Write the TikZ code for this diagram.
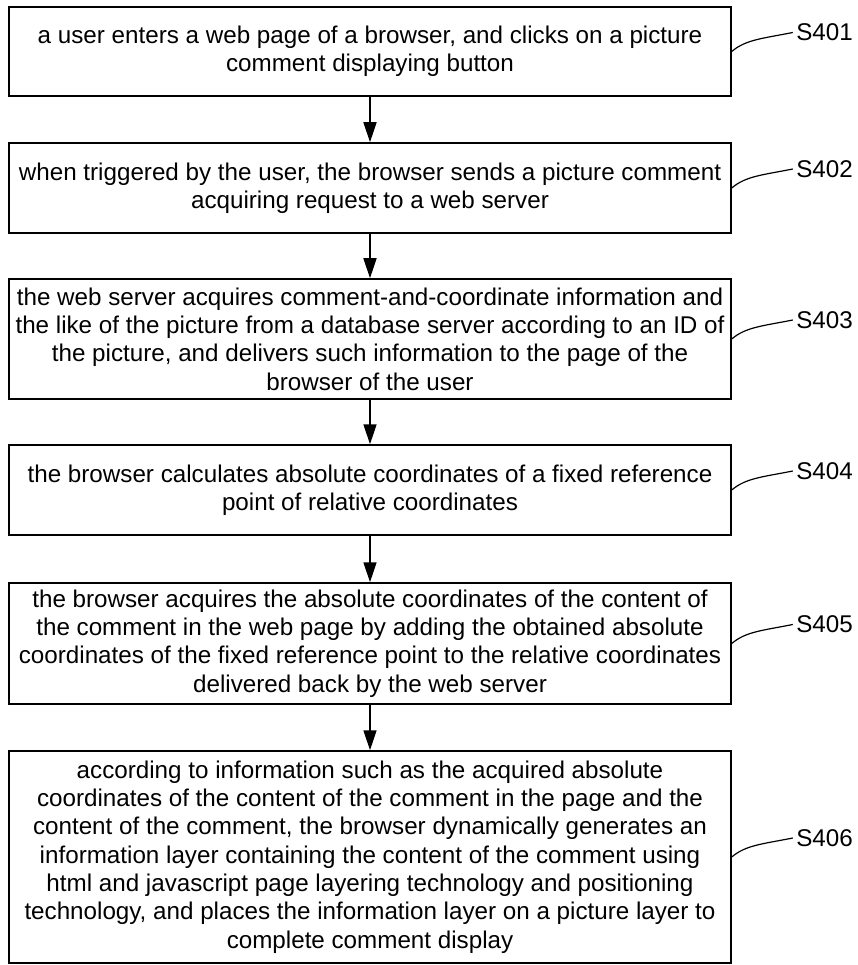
\documentclass[tikz,border=0pt]{standalone}
\usepackage{fontspec}
\setmainfont{Liberation Sans}
\usepackage{tikz}
\usetikzlibrary{arrows.meta}
\tikzset{every node/.style={font=\fontsize{24.2}{28.3}\selectfont}}
\colorlet{boxcol}{black}
\colorlet{leadcol}{black}
\tikzset{
  stepbox/.style={draw=boxcol, line width=1.5pt, align=center,
    minimum width=722pt, inner sep=0pt},
  steplabel/.style={anchor=west, text=boxcol},
}

\begin{document}
\begin{tikzpicture}[x=1pt, y=-1pt, >={Triangle[length=20pt, width=13pt]}]

  \useasboundingbox (0,0) rectangle (858,965);

  % Process boxes.
  \node[stepbox, minimum height=89pt] (s401) at (370,51.5)
    {a user enters a web page of a browser, and clicks on a picture\\
     comment displaying button};
  \node[stepbox, minimum height=90pt] (s402) at (370,188)
    {when triggered by the user, the browser sends a picture comment\\
     acquiring request to a web server};
  \node[stepbox, minimum height=120pt] (s403) at (370,339)
    {the web server acquires comment-and-coordinate information and\\
     the like of the picture from a database server according to an ID of\\
     the picture, and delivers such information to the page of the\\
     browser of the user};
  \node[stepbox, minimum height=90pt] (s404) at (370,490)
    {the browser calculates absolute coordinates of a fixed reference\\
     point of relative coordinates};
  \node[stepbox, minimum height=121pt] (s405) at (370,643.5)
    {the browser acquires the absolute coordinates of the content of\\
     the comment in the web page by adding the obtained absolute\\
     coordinates of the fixed reference point to the relative coordinates\\
     delivered back by the web server};
  \node[stepbox, minimum height=212pt] (s406) at (370,857)
    {according to information such as the acquired absolute\\
     coordinates of the content of the comment in the page and the\\
     content of the comment, the browser dynamically generates an\\
     information layer containing the content of the comment using\\
     html and javascript page layering technology and positioning\\
     technology, and places the information layer on a picture layer to\\
     complete comment display};

  % Arrows between steps.
  \foreach \a/\b in {s401/s402, s402/s403, s403/s404, s404/s405, s405/s406} {
    \draw[->, line width=1.5pt, boxcol] (\a) -- (\b);
  }

  % Step labels with leader curves.
  \foreach \s in {401,...,406} {
    \path (s\s.east) ++(61,-19) node[steplabel] (l\s) {S\s};
    \draw[line width=1.2pt, leadcol] (s\s.east)
      .. controls +(14,-12) and +(-30,6) .. (l\s.west);
  }

\end{tikzpicture}
\end{document}
